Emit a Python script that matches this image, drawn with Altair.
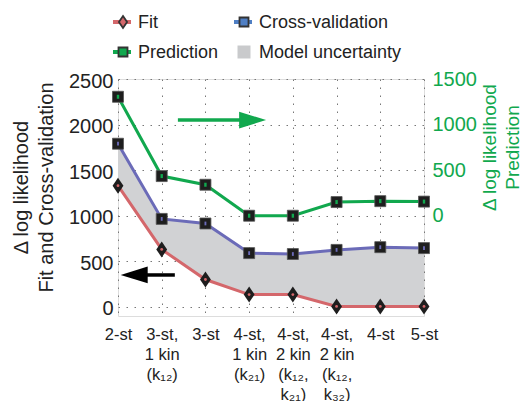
import json
import altair as alt
import pandas as pd

# ---------------- data ----------------
x_labels = [
    ["2-st"],
    ["3-st,", "1 kin", "(k₁₂)"],
    ["3-st"],
    ["4-st,", "1 kin", "(k₂₁)"],
    ["4-st,", "2 kin", "(k₁₂,", "k₂₁)"],
    ["4-st,", "2 kin", "(k₁₂,", "k₃₂)"],
    ["4-st"],
    ["5-st"],
]
fit = [1330, 630, 300, 135, 135, 5, 5, 5]
cv = [1790, 965, 915, 590, 580, 625, 655, 645]
pred = [1305, 435, 340, 0, 0, 150, 160, 155]

left_ticks = [0, 500, 1000, 1500, 2000, 2500]
right_ticks = [0, 500, 1000, 1500]
left_domain = [-100, 2500]
right_domain = [-1100, 1500]

legend_labels = ["Fit", "Cross-validation", "Prediction", "Model uncertainty"]

# annotation arrows (data units: x index, left-axis y)
black_arrow = {"tail": [1.30], "base": [0.655], "head": [0.37], "y": [350]}
green_arrow = {"tail": [1.37], "base": [2.85], "head": [3.08], "y": [2050]}

# ---------------- styles ----------------
RED = "#d4676b"
BLUE = "#6b6bb8"
GREEN = "#11a84e"
GRAY = "#d1d2d4"
LEG_GRAY = "#c9cacc"
DARK = "#1e1e1e"
FONT = "Liberation Sans"
legend_colors = [RED, "#4f7fc4", GREEN, LEG_GRAY]

DIAMOND = "M0,-1L0.68,0L0,1L-0.68,0Z"
TRI_R = "M-1,-0.62L1,0L-1,0.62Z"
TRI_L = "M1,-0.62L-1,0L1,0.62Z"

W, H = 306, 237

df = pd.DataFrame({"idx": list(range(len(fit))), "fit": fit, "cv": cv, "pred": pred})

label_expr = json.dumps(x_labels, ensure_ascii=False) + "[datum.value]"

x_axis = alt.Axis(
    values=list(range(len(x_labels))), labelExpr=label_expr, title=None,
    grid=True, gridDash=[1.5, 6.5], gridColor="#777777", gridWidth=1,
    ticks=False, domain=False, labelFont=FONT, labelFontSize=16.5,
    labelLineHeight=20, labelPadding=10, labelColor="#222222",
    labelOverlap=False, labelFlush=False, labelBound=False, labelAlign="center",
)
x_scale = alt.Scale(domain=[0, len(fit) - 1], nice=False, zero=False)


def xq(field):
    return alt.X(field, type="quantitative", scale=x_scale, axis=x_axis)


yl_scale = alt.Scale(domain=left_domain, nice=False, zero=False)
yl_axis = alt.Axis(
    values=left_ticks, format="d", title=["Δ log likelihood", "Fit and Cross-validation"],
    grid=True, gridDash=[1.5, 6.5], gridColor="#777777", gridWidth=1,
    ticks=False, domain=False, labelFont=FONT, labelFontSize=20,
    labelColor="#222222", labelPadding=5, labelOffset=2,
    titleFont=FONT, titleFontSize=20, titleFontWeight="normal",
    titleColor="#222222", titleAngle=270, titleLineHeight=25,
    titleX=-107, titleY=108, titleBaseline="top", titleAlign="center",
)


def yl(field):
    return alt.Y(field, type="quantitative", scale=yl_scale, axis=yl_axis)


yr_scale = alt.Scale(domain=right_domain, nice=False, zero=False)
yr_axis = alt.Axis(
    orient="right", values=right_ticks, format="d", title=["Δ log likelihood", "Prediction"],
    grid=False, ticks=False, domain=False, labelFont=FONT, labelFontSize=20,
    labelColor=GREEN, labelPadding=8,
    titleFont=FONT, titleFontSize=19, titleFontWeight="normal",
    titleColor=GREEN, titleAngle=270, titleLineHeight=23,
    titleX=56, titleY=68, titleBaseline="top", titleAlign="center",
)


def yr(field):
    return alt.Y(field, type="quantitative", scale=yr_scale, axis=yr_axis)


base = alt.Chart(df)

area = base.mark_area(color=GRAY, opacity=1).encode(x=xq("idx"), y=yl("fit"), y2="cv:Q")
fit_line = base.mark_line(color=RED, strokeWidth=3).encode(x=xq("idx"), y=yl("fit"))
cv_line = base.mark_line(color=BLUE, strokeWidth=3).encode(x=xq("idx"), y=yl("cv"))
fit_mark = base.mark_point(shape=DIAMOND, filled=True, color=DARK, size=256, opacity=1).encode(
    x=xq("idx"), y=yl("fit"))
fit_dot = base.mark_point(shape="circle", filled=True, color=RED, size=8, opacity=1).encode(
    x=xq("idx"), y=yl("fit"))
cv_mark = base.mark_point(shape="square", filled=True, color=DARK, size=121, opacity=1,
                          stroke="#555555", strokeWidth=0.8).encode(x=xq("idx"), y=yl("cv"))
cv_dot = base.mark_point(shape="M-0.5,-1L0.5,-1L0.5,1L-0.5,1Z", filled=True, color=BLUE,
                         size=14, opacity=1).encode(x=xq("idx"), y=yl("cv"))

ba = alt.Chart(pd.DataFrame(black_arrow))
ga = alt.Chart(pd.DataFrame(green_arrow))
black_shaft = ba.mark_rule(color="black", strokeWidth=3.5).encode(x=xq("tail"), x2="base:Q", y=yl("y"))
black_head = ba.mark_point(shape=TRI_L, filled=True, color="black", size=729, opacity=1).encode(
    x=xq("head"), y=yl("y"))
green_shaft = ga.mark_rule(color=GREEN, strokeWidth=3.5).encode(x=xq("tail"), x2="base:Q", y=yl("y"))
green_head = ga.mark_point(shape=TRI_R, filled=True, color=GREEN, size=729, opacity=1).encode(
    x=xq("head"), y=yl("y"))

left = alt.layer(area, fit_line, cv_line, fit_mark, fit_dot, cv_mark, cv_dot,
                 black_shaft, black_head, green_shaft, green_head)

pred_line = base.mark_line(color=GREEN, strokeWidth=3).encode(x=xq("idx"), y=yr("pred"))
pred_mark = base.mark_point(shape="square", filled=True, color=DARK, size=121, opacity=1,
                            stroke="#555555", strokeWidth=0.8).encode(x=xq("idx"), y=yr("pred"))
pred_dot = base.mark_point(shape="M-0.6,-1L0.6,-1L0.6,1L-0.6,1Z", filled=True, color=GREEN,
                           size=16, opacity=1).encode(x=xq("idx"), y=yr("pred"))
right = alt.layer(pred_line, pred_mark, pred_dot)

# ---------------- legend (drawn manually, two columns) ----------------
legend_layers = []
col_x = [0, 121]          # pixel offset of each legend column (relative to plot left)
row_y = [-57, -27]        # pixel rows (relative to plot top)
legend_shapes = [DIAMOND, "square", "square", "square"]
legend_sizes = [144, 81, 81, 169]
for i, name in enumerate(legend_labels):
    cx = col_x[i % 2]
    cy = row_y[i // 2]
    ldf = alt.Chart(pd.DataFrame({"label": [name]}))
    if i < 3:
        legend_layers.append(ldf.mark_rule(color=legend_colors[i], strokeWidth=4).encode(
            x=alt.value(cx - 5), x2=alt.value(cx + 13), y=alt.value(cy)))
        legend_layers.append(ldf.mark_point(shape=legend_shapes[i], filled=True,
                                            color=legend_colors[i], stroke="#333333",
                                            strokeWidth=1.8, size=legend_sizes[i], opacity=1).encode(
            x=alt.value(cx + 5), y=alt.value(cy)))
    else:
        legend_layers.append(ldf.mark_point(shape="square", filled=True, color=legend_colors[i],
                                            size=legend_sizes[i], opacity=1).encode(
            x=alt.value(cx + 5), y=alt.value(cy)))
    legend_layers.append(ldf.mark_text(font=FONT, fontSize=18, align="left", baseline="middle",
                                       color="#222222").encode(
        x=alt.value(cx + 20), y=alt.value(cy + 1), text="label:N"))

legend = alt.layer(*legend_layers)

chart = alt.layer(left, right, legend).resolve_scale(y="independent").properties(
    width=W, height=H,
    autosize=alt.AutoSizeParams(type="none"),
    padding={"left": 110, "top": 71, "right": 97, "bottom": 85},
).configure_view(stroke="black", strokeWidth=1.5).configure(background="white")

chart.save("out.html", embed_options={"renderer": "svg", "actions": False})
